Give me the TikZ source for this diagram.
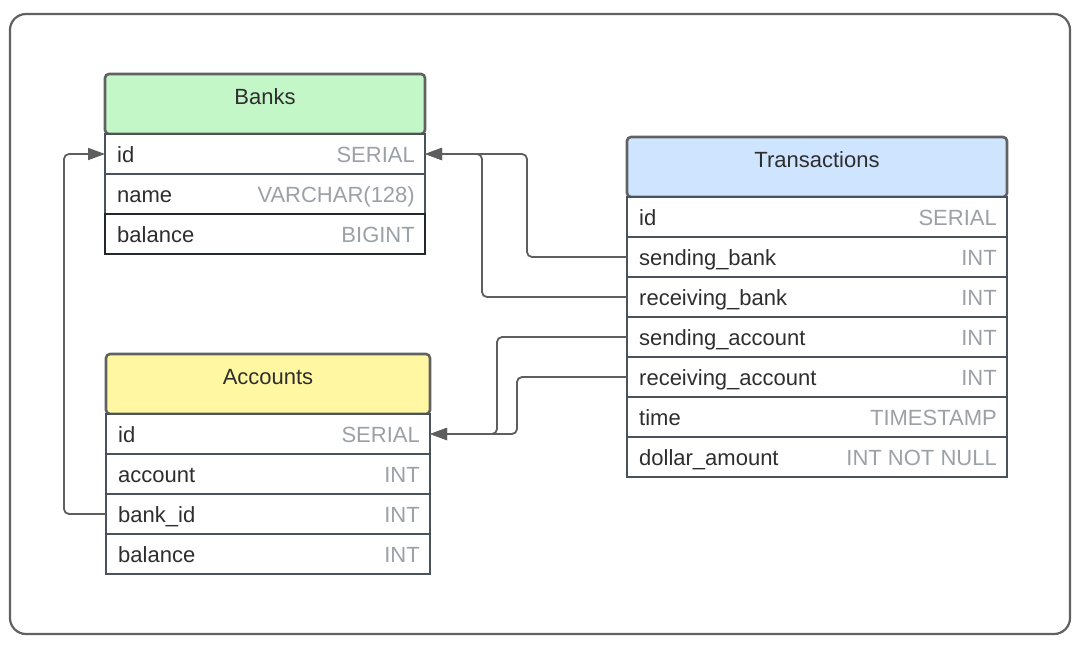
\documentclass[tikz,border=0pt]{standalone}
\usepackage{fontspec}
\setmainfont{Liberation Sans}
\usepackage{tikz}
\usetikzlibrary{
  arrows.meta,
  positioning
}
\definecolor{HeadGreen}{HTML}{C3F7C8}
\definecolor{HeadYellow}{HTML}{FFF7A1}
\definecolor{HeadBlue}{HTML}{CFE4FF}
\definecolor{FrameGray}{HTML}{616161}
\definecolor{RowLine}{HTML}{4A525B}
\definecolor{RowDark}{HTML}{24282D}
\definecolor{TextDark}{HTML}{2E2E2E}
\definecolor{TypeGray}{HTML}{9CA1A8}
\definecolor{LinkGray}{HTML}{5E5E5E}
\tikzset{
  outerframe/.style={
    draw=FrameGray,
    line width=2.2pt,
    rounded corners=16pt
  },
  header/.style={
    draw=FrameGray,
    line width=2.6pt,
    rounded corners=4pt,
    anchor=north west,
    minimum height=60pt,
    outer sep=0pt,
    inner sep=0pt
  },
  tabletitle/.style={
    anchor=base,
    inner sep=0pt,
    text=TextDark
  },
  row/.style={
    draw=RowLine,
    line width=2.6pt,
    fill=white,
    anchor=north west,
    minimum height=40pt,
    outer sep=0pt,
    inner sep=0pt
  },
  field/.style={
    anchor=base west,
    inner sep=0pt,
    text=TextDark
  },
  dtype/.style={
    anchor=base east,
    inner sep=0pt,
    text=TypeGray
  },
  fk/.style={
    draw=LinkGray,
    line width=1.8pt,
    rounded corners=5pt,
    -{Triangle[length=17pt,width=12pt]}
  }
}

\begin{document}
\begin{tikzpicture}[x=1pt,y=-1pt,font=\fontsize{22}{26}\selectfont]

  \useasboundingbox (0,0) rectangle (1082,649);
  \draw[outerframe] (10,14) rectangle (1070,634);

  % Banks
  \node[
    header,
    fill=HeadGreen,
    minimum width=320pt
  ] (banks) at (105,74) {};
  \node[tabletitle] at ([yshift=-30pt]banks.north) {Banks};
  \foreach \key/\col/\typ [count=\i from 0] in {
    id/id/SERIAL,
    name/name/VARCHAR(128),
    balance/balance/BIGINT
  } {
    \node[row, minimum width=320pt] (bk-\key) at (105,{134+40*\i}) {};
    \node[field] at ([xshift=12pt,yshift=-8.5pt]bk-\key.west) {\col};
    \node[dtype] at ([xshift=-10pt,yshift=-8.5pt]bk-\key.east) {\typ};
  }
  \draw[draw=RowDark,line width=2.6pt]
  (bk-balance.north west) rectangle (bk-balance.south east);

  % Accounts
  \node[
    header,
    fill=HeadYellow,
    minimum width=324pt
  ] (accounts) at (106,354) {};
  \node[tabletitle] at ([yshift=-30pt]accounts.north) {Accounts};
  \foreach \key/\col/\typ [count=\i from 0] in {
    id/id/SERIAL,
    account/account/INT,
    bankid/bank\_id/INT,
    balance/balance/INT
  } {
    \node[row, minimum width=324pt] (ac-\key) at (106,{414+40*\i}) {};
    \node[field] at ([xshift=12pt,yshift=-8.5pt]ac-\key.west) {\col};
    \node[dtype] at ([xshift=-10pt,yshift=-8.5pt]ac-\key.east) {\typ};
  }

  % Transactions
  \node[
    header,
    fill=HeadBlue,
    minimum width=380pt
  ] (transactions) at (627,137) {};
  \node[tabletitle] at ([yshift=-30pt]transactions.north) {Transactions};
  \foreach \key/\col/\typ [count=\i from 0] in {
    id/id/SERIAL,
    sendbank/sending\_bank/INT,
    recvbank/receiving\_bank/INT,
    sendacct/sending\_account/INT,
    recvacct/receiving\_account/INT,
    time/time/TIMESTAMP,
    amount/dollar\_amount/INT NOT NULL
  } {
    \node[row, minimum width=380pt] (tr-\key) at (627,{197+40*\i}) {};
    \node[field] at ([xshift=12pt,yshift=-8.5pt]tr-\key.west) {\col};
    \node[dtype] at ([xshift=-10pt,yshift=-8.5pt]tr-\key.east) {\typ};
  }

  % foreign keys
  \draw[fk] (tr-sendbank.west) -- ++(-100,0) |- (bk-id.east);
  \draw[fk] (tr-recvbank.west) -- ++(-145,0) |- (bk-id.east);
  \draw[fk] (tr-sendacct.west) -- ++(-130,0) |- (ac-id.east);
  \draw[fk] (tr-recvacct.west) -- ++(-110,0) |- (ac-id.east);
  \draw[fk] (ac-bankid.west) -- ++(-42,0) |- (bk-id.west);

\end{tikzpicture}
\end{document}
